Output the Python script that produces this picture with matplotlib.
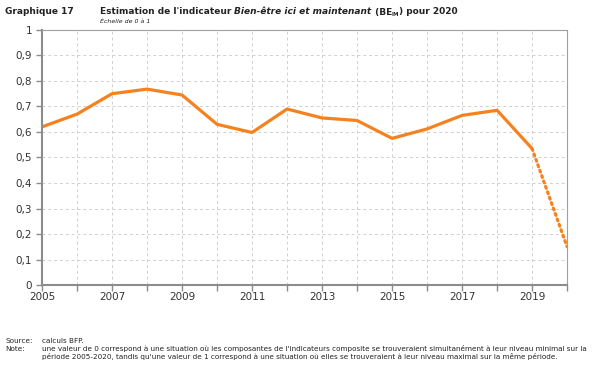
import matplotlib.pyplot as plt
from matplotlib.ticker import MultipleLocator, FixedLocator, FuncFormatter

years = [2005, 2006, 2007, 2008, 2009, 2010, 2011, 2012, 2013, 2014, 2015, 2016, 2017, 2018, 2019]
values = [0.62, 0.67, 0.75, 0.768, 0.745, 0.63, 0.598, 0.69, 0.655, 0.645, 0.575, 0.612, 0.665, 0.685, 0.535]
proj_years = [2019, 2020]
proj_values = [0.535, 0.15]
label_years = [2005, 2007, 2009, 2011, 2013, 2015, 2017, 2019]

orange = '#F5821F'

fig = plt.figure(figsize=(5.96, 3.65), dpi=100)
ax = fig.add_axes([0.0705, 0.219, 0.881, 0.699])

ax.plot(years, values, color=orange, linewidth=2.3, solid_capstyle='butt')
ax.plot(proj_years, proj_values, color=orange, linewidth=2.3, linestyle=(0, (0.6, 1.2)),
        dash_capstyle='round')

ax.set_xlim(2005, 2020)
ax.set_ylim(0, 1)
ax.xaxis.set_major_locator(FixedLocator(label_years))
ax.xaxis.set_minor_locator(MultipleLocator(1))
ax.yaxis.set_major_locator(MultipleLocator(0.1))


def fmt(v, p):
    if abs(v - round(v)) < 1e-9:
        return str(int(round(v)))
    return f'{v:.1f}'.replace('.', ',')


ax.yaxis.set_major_formatter(FuncFormatter(fmt))

ax.grid(True, which='both', axis='x', color='#d0d0d0', linestyle=(0, (3, 3)), linewidth=0.7)
ax.grid(True, which='major', axis='y', color='#d0d0d0', linestyle=(0, (3, 3)), linewidth=0.7)
ax.set_axisbelow(True)

for side in ['left', 'bottom']:
    ax.spines[side].set_color('#8c8c8c')
    ax.spines[side].set_linewidth(1.5)
for side in ['top', 'right']:
    ax.spines[side].set_color('#a0a0a0')
    ax.spines[side].set_linewidth(0.8)

ax.tick_params(axis='both', which='both', labelsize=7.5, colors='#8c8c8c', labelcolor='#333333')
ax.tick_params(axis='x', which='both', length=4, width=1, pad=1)
ax.tick_params(axis='y', length=4, width=1, pad=3)

# Title
fig.text(5 / 596, 1 - 12 / 365, 'Graphique 17', fontsize=6.5, fontweight='bold', va='center', color='#222222')
renderer = fig.canvas.get_renderer()
x = 100 / 596
yt = 1 - 12 / 365
parts = [('Estimation de l\'indicateur ', 'normal', 0),
         ('Bien-être ici et maintenant', 'italic', 0),
         (' (BE', 'normal', 0),
         ('IM', 'normal', 1),
         (') pour 2020', 'normal', 0)]
for txt, style, sub in parts:
    t = fig.text(x, yt - (0.006 if sub else 0), txt, fontsize=4 if sub else 6.5, fontweight='bold',
                 style=style, va='center', color='#222222')
    bb = t.get_window_extent(renderer)
    x += bb.width / fig.bbox.width

fig.text(100 / 596, 1 - 21 / 365, 'Échelle de 0 à 1', fontsize=4.5, style='italic', va='center', color='#222222')

# Footnotes
fs = 5.2
fig.text(5 / 596, 1 - 341 / 365, 'Source:', fontsize=fs, va='center', color='#222222')
fig.text(42 / 596, 1 - 341 / 365, 'calculs BFP.', fontsize=fs, va='center', color='#222222')
fig.text(5 / 596, 1 - 349 / 365, 'Note:', fontsize=fs, va='center', color='#222222')
fig.text(42 / 596, 1 - 349 / 365,
         "une valeur de 0 correspond à une situation où les composantes de l'indicateurs composite se trouveraient simultanément à leur niveau minimal sur la",
         fontsize=fs, va='center', color='#222222')
fig.text(42 / 596, 1 - 357 / 365,
         "période 2005-2020, tandis qu'une valeur de 1 correspond à une situation où elles se trouveraient à leur niveau maximal sur la même période.",
         fontsize=fs, va='center', color='#222222')

plt.savefig('out.png', dpi=100)
